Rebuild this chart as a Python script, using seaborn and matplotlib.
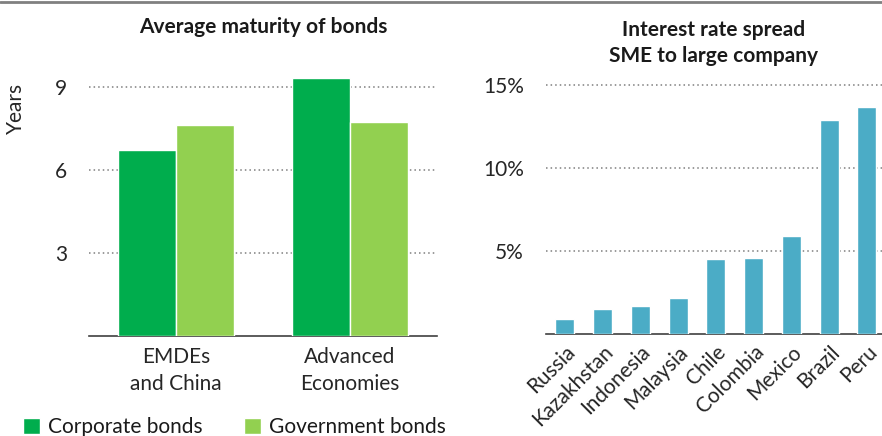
import pandas as pd
import seaborn as sns
import matplotlib
matplotlib.use("Agg")
import matplotlib.pyplot as plt
from matplotlib.lines import Line2D
from matplotlib.patches import Patch
from matplotlib.ticker import FuncFormatter

# === Data ===
groups = ["EMDEs\nand China", "Advanced\nEconomies"]
corporate = [6.72, 9.33]
government = [7.62, 7.72]

countries = ["Russia", "Kazakhstan", "Indonesia", "Malaysia", "Chile",
             "Colombia", "Mexico", "Brazil", "Peru"]
spread = [0.86, 1.46, 1.66, 2.14, 4.47, 4.57, 5.87, 12.86, 13.66]

series_names = ["Corporate bonds", "Government bonds"]
green_dark = "#00AD4D"
green_light = "#92D050"
blue = "#4BACC6"

sns.set_theme(style="white")
plt.rcParams["font.family"] = ["Lato", "DejaVu Sans"]
plt.rcParams["text.color"] = "#1a1a1a"

left_df = pd.DataFrame({
    "group": groups * 2,
    "series": [series_names[0]] * 2 + [series_names[1]] * 2,
    "value": corporate + government,
})
right_df = pd.DataFrame({"country": countries, "spread": spread})

fig = plt.figure(figsize=(8.82, 4.36), dpi=100)
FS = 15

# === Left panel: average maturity ===
ax1 = fig.add_axes([0.101, 0.2294, 0.3945, 0.6346])
sns.barplot(data=left_df, x="group", y="value", hue="series",
            palette=[green_dark, green_light], width=0.667,
            saturation=1, ax=ax1, legend=False, zorder=3)
ax1.set_xlim(-0.5, 1.5)
ax1.set_ylim(0, 10)
ax1.set_yticks([3, 6, 9])
ax1.yaxis.grid(True, linestyle=(0, (1, 2)), color="#7f7f7f", linewidth=1.1, zorder=0)
ax1.set_xlabel("")
ax1.set_ylabel("Years", fontsize=FS)
ax1.yaxis.set_label_coords(-0.181, 0.824)
ax1.set_title("Average maturity of bonds", fontsize=15, fontweight="bold", pad=0, y=1.094)
ax1.tick_params(axis="both", length=0, labelsize=FS)
ax1.tick_params(axis="y", pad=16)
ax1.tick_params(axis="x", pad=8)
for lbl in ax1.get_xticklabels():
    lbl.set_linespacing(1.45)
for s in ["top", "right", "left"]:
    ax1.spines[s].set_visible(False)
ax1.spines["bottom"].set_color("#404040")
ax1.spines["bottom"].set_linewidth(1.2)

handles = [Patch(facecolor=green_dark, label=series_names[0]),
           Patch(facecolor=green_light, label=series_names[1])]
fig.legend(handles=handles, loc="lower left", bbox_to_anchor=(0.005, -0.045),
           ncol=2, frameon=False, fontsize=FS, handlelength=0.8, handleheight=0.8,
           handletextpad=0.4, columnspacing=2.0)

# === Right panel: interest rate spread ===
ax2 = fig.add_axes([0.619, 0.235, 0.381, 0.609])
sns.barplot(data=right_df, x="country", y="spread", color=blue,
            saturation=1, width=0.5, ax=ax2, zorder=3)
ax2.set_xlim(-0.5, 8.4)
ax2.set_ylim(0, 16)
ax2.set_yticks([5, 10, 15])
ax2.yaxis.set_major_formatter(FuncFormatter(lambda v, p: f"{v:.0f}%"))
ax2.yaxis.grid(True, linestyle=(0, (1, 2)), color="#7f7f7f", linewidth=1.1, zorder=0)
ax2.set_xlabel("")
ax2.set_ylabel("")
ax2.set_title("Interest rate spread\nSME to large company", fontsize=15,
              fontweight="bold", pad=0, y=1.021, linespacing=1.4)
ax2.tick_params(axis="both", length=0, labelsize=FS)
ax2.tick_params(axis="y", pad=16)
ax2.tick_params(axis="x", pad=6)
for lbl in ax2.get_xticklabels():
    lbl.set_rotation(45)
    lbl.set_ha("right")
    lbl.set_rotation_mode("anchor")
for s in ["top", "right", "left"]:
    ax2.spines[s].set_visible(False)
ax2.spines["bottom"].set_color("#404040")
ax2.spines["bottom"].set_linewidth(1.2)

# top rule
fig.add_artist(Line2D([0, 1], [0.996, 0.996], color="#808080", linewidth=2,
                      transform=fig.transFigure))

plt.savefig("out.png", dpi=100)
plt.close()
